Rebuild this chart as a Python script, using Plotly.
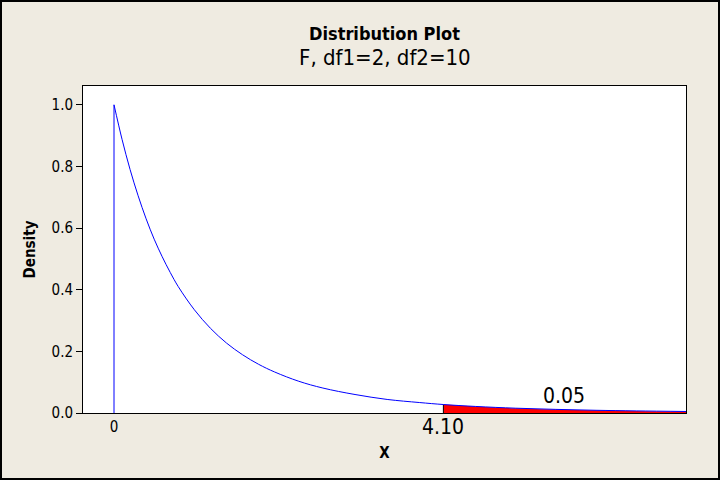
import plotly.graph_objects as go

# Density curve values
x_vals = [0.0, 0.1, 0.2, 0.3, 0.4, 0.5, 0.6, 0.7, 0.8, 1.0, 1.2, 1.4, 1.6, 1.8,
          2.0, 2.3, 2.6, 3.0, 3.4, 3.8, 4.1, 4.5, 5.0, 5.5, 6.0, 6.5, 7.12]
y_vals = [1.0, 0.888, 0.790, 0.705, 0.630, 0.564, 0.507, 0.456, 0.410, 0.335,
          0.275, 0.227, 0.189, 0.158, 0.133, 0.103, 0.081, 0.060, 0.044, 0.034,
          0.0275, 0.0213, 0.0156, 0.0117, 0.0088, 0.0068, 0.0049]

critical_x = 4.10
tail_area = "0.05"
tail_label_x = 5.6
tail_label_y = 0.055

title_main = "Distribution Plot"
title_sub = "F, df1=2, df2=10"
y_ticks = [0.0, 0.2, 0.4, 0.6, 0.8, 1.0]
x_ticks = [0]

tail_x = [x for x in x_vals if x >= critical_x]
tail_y = [y for x, y in zip(x_vals, y_vals) if x >= critical_x]
crit_y = y_vals[x_vals.index(critical_x)]

FONT = "DejaVu Sans Condensed"
BG = "#EFEBE1"
W, H = 720, 480
ML, MR, MT, MB = 83, 34, 86, 67
PW, PH = W - ML - MR, H - MT - MB

fig = go.Figure()

# red shaded tail
fig.add_trace(go.Scatter(x=tail_x, y=tail_y, mode="lines", line=dict(color="red", width=0, shape="spline"),
                         fill="tozeroy", fillcolor="red", showlegend=False, hoverinfo="skip"))
# black boundary at critical value
fig.add_trace(go.Scatter(x=[critical_x, critical_x], y=[0, crit_y], mode="lines",
                         line=dict(color="black", width=1), showlegend=False))
# vertical line at x=0
fig.add_trace(go.Scatter(x=[x_vals[0], x_vals[0]], y=[0, y_vals[0]], mode="lines",
                         line=dict(color="blue", width=1), showlegend=False))
# density curve
fig.add_trace(go.Scatter(x=x_vals, y=y_vals, mode="lines",
                         line=dict(color="blue", width=1, shape="spline"), showlegend=False))

fig.add_annotation(x=critical_x, y=0, yref="y", xref="x", text="4.10", showarrow=False,
                   yanchor="middle", yshift=-14, font=dict(family=FONT, size=21, color="black"))
fig.add_annotation(x=tail_label_x, y=tail_label_y, text=tail_area, showarrow=False,
                   yanchor="middle", font=dict(family=FONT, size=21, color="black"))
fig.add_annotation(x=360 / W, y=1 + (MT - 33) / PH, xref="paper", yref="paper", yanchor="middle",
                   xanchor="center", text="<b>" + title_main + "</b>", showarrow=False,
                   font=dict(family=FONT, size=18, color="black"))
fig.add_annotation(x=360 / W, y=1 + (MT - 58) / PH, xref="paper", yref="paper", yanchor="middle",
                   xanchor="center", text=title_sub, showarrow=False,
                   font=dict(family=FONT, size=22, color="black"))

fig.add_shape(type="rect", xref="paper", yref="paper", x0=-(ML - 1) / PW, x1=1 + (MR - 1) / PW,
              y0=-(MB - 1) / PH, y1=1 + (MT - 1) / PH, line=dict(color="black", width=2))

fig.update_layout(
    width=W, height=H,
    margin=dict(l=ML, r=MR, t=MT, b=MB),
    paper_bgcolor=BG, plot_bgcolor="white",
    font=dict(family=FONT, size=15, color="black"),
    showlegend=False,
)
fig.update_xaxes(range=[-0.386, 7.12], tickvals=x_ticks, ticktext=["0"], ticks="", showgrid=False,
                 zeroline=False, showline=True, linecolor="black", linewidth=1, mirror=True,
                 title=dict(text="<b>X</b>", font=dict(size=15), standoff=12),
                 tickfont=dict(size=15))
fig.update_yaxes(range=[0, 1.061], tickvals=y_ticks, tickformat=".1f", ticks="outside", ticklen=6,
                 tickcolor="black", showgrid=False, zeroline=False, showline=True, linecolor="black",
                 linewidth=1, mirror=True, title=dict(text="<b>Density</b>", font=dict(size=15), standoff=12),
                 tickfont=dict(size=15))

fig.write_html("out.html", config={"displayModeBar": False},
               post_script="document.body.style.margin='0';document.body.style.overflow='hidden';"
                           "document.body.style.background='" + BG + "';")
